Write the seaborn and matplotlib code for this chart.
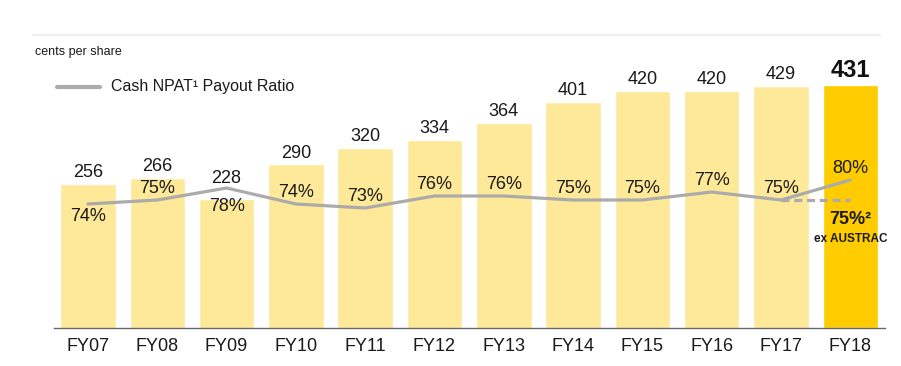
import matplotlib
matplotlib.use('Agg')
import matplotlib.pyplot as plt
import seaborn as sns
import pandas as pd

years = ['FY07', 'FY08', 'FY09', 'FY10', 'FY11', 'FY12', 'FY13', 'FY14', 'FY15', 'FY16', 'FY17', 'FY18']
dividends = [256, 266, 228, 290, 320, 334, 364, 401, 420, 420, 429, 431]
payout = [74, 75, 78, 74, 73, 76, 76, 75, 75, 77, 75, 80]
payout_ex_austrac = 75
label_side = ['below', 'above', 'below', 'above', 'above', 'above', 'above', 'above', 'above', 'above', 'above', 'above']

# extra nudges (points) for labels that crowd the line
bar_label_nudge = {'FY09': 7}
pct_label_nudge = {'FY09': -4}

sns.set_theme(style='white')
plt.rcParams['font.family'] = ['Liberation Sans', 'DejaVu Sans']

light = '#FEE998'
gold = '#FFCC00'
grey = '#ABABAB'
txt = '#1a1a1a'

df = pd.DataFrame({'year': years, 'dps': dividends, 'payout': payout})
colors = [light] * (len(years) - 1) + [gold]

fig = plt.figure(figsize=(9.01, 3.66), dpi=100)
ax = fig.add_axes([54 / 901, 38 / 366, 831 / 901, 282 / 366])

sns.barplot(data=df, x='year', y='dps', hue='year', palette=colors, legend=False,
            width=0.8, saturation=1, ax=ax)
ax.set_xlim(-0.49, 11.5)
ax.set_ylim(0, 500)
ax.set_xlabel('')
ax.set_ylabel('')
ax.set_yticks([])
ax.tick_params(axis='x', length=0, labelsize=13, colors=txt, pad=7)
for s in ['top', 'right', 'left']:
    ax.spines[s].set_visible(False)
ax.spines['bottom'].set_color('#666666')
ax.spines['bottom'].set_linewidth(1)

# value labels on bars
for i, v in enumerate(dividends):
    dy = 2 + bar_label_nudge.get(years[i], 0)
    if i == len(dividends) - 1:
        ax.annotate(str(v), (i, v), xytext=(0, dy), textcoords='offset points',
                    ha='center', va='bottom', fontsize=17, fontweight='bold', color='#111111')
    else:
        ax.annotate(str(v), (i, v), xytext=(0, dy), textcoords='offset points',
                    ha='center', va='bottom', fontsize=13, color=txt)

# payout ratio line on a second axis
ax2 = ax.twinx()
ax2.set_ylim(43, 113.5)
ax2.set_axis_off()
sns.lineplot(x=list(range(len(years))), y=payout, color=grey, linewidth=2.3, ax=ax2)
ax2.plot([10, 11], [payout[10], payout_ex_austrac], color=grey, linewidth=2.3, linestyle=(0, (2.5, 1.5)))

for i, v in enumerate(payout):
    nudge = pct_label_nudge.get(years[i], 0)
    if label_side[i] == 'above':
        ax2.annotate(f'{v}%', (i, v), xytext=(0, 2 + nudge), textcoords='offset points',
                     ha='center', va='bottom', fontsize=13, color=txt)
    else:
        ax2.annotate(f'{v}%', (i, v), xytext=(0, -3 + nudge), textcoords='offset points',
                     ha='center', va='top', fontsize=13, color=txt)

ax2.annotate(f'{payout_ex_austrac}%²', (11, payout_ex_austrac), xytext=(0, -8), textcoords='offset points',
             ha='center', va='top', fontsize=13, fontweight='bold', color=txt)
ax2.annotate('ex AUSTRAC', (11, payout_ex_austrac), xytext=(0, -24), textcoords='offset points',
             ha='center', va='top', fontsize=8.5, fontweight='bold', color=txt)

# header
fig.add_artist(plt.Line2D([33 / 901, 880 / 901], [1 - 35 / 366, 1 - 35 / 366], color='#EEEEEE', linewidth=1.5))
fig.text(35 / 901, 1 - 52 / 366, 'cents per share', fontsize=9, va='center', ha='left', color=txt)
fig.add_artist(plt.Line2D([57 / 901, 100 / 901], [1 - 87 / 366, 1 - 87 / 366], color=grey, linewidth=3))
fig.text(111 / 901, 1 - 87 / 366, 'Cash NPAT¹ Payout Ratio', fontsize=11.5, va='center', ha='left', color=txt)

fig.savefig('out.png', dpi=100)
